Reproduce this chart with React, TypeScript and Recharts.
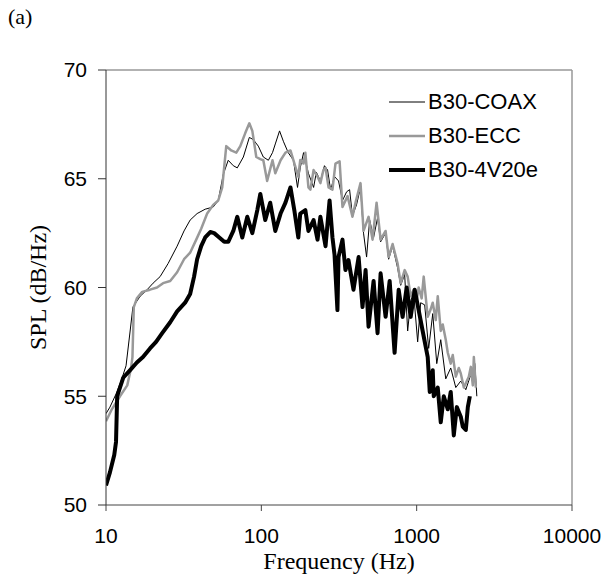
import { LineChart, Line, XAxis, YAxis, ReferenceLine, Label } from 'recharts';

// B30-COAX (thin black)
const coaxFreq = [
  10, 10.6, 11.6, 12.5, 13.46, 14.3, 14.9, 16.6, 18.4, 20.1, 22.3, 25.1, 28.7, 31.8, 34.8, 38.6, 43.5, 49.0,
  52.8, 56.9, 61.2, 66.0, 70.0, 76.6, 83.7, 88.8, 95.6, 103, 111, 118, 123, 131, 139, 149, 161, 171, 178,
  187, 201, 217, 226, 240, 255, 267, 279, 296, 314, 333, 354, 370, 386, 410, 435, 455, 476, 498, 528, 560,
  586, 631, 660, 700, 754, 789, 837, 875, 915, 957, 1015, 1061, 1126, 1195, 1269, 1347, 1429, 1539, 1657,
  1786, 1923, 2072, 2231, 2368, 2440,
];
const coaxSpl = [
  54.2, 54.5, 55.1, 55.7, 56.4, 58.0, 59.1, 59.6, 59.9, 60.2, 60.5, 61.1, 61.9, 62.6, 63.1, 63.4, 63.6, 63.7,
  64.0, 65.2, 65.85, 65.6, 65.5, 66.0, 66.9, 66.8, 66.5, 66.0, 65.85, 66.2, 66.6, 67.2, 66.7, 66.2, 65.85, 64.6, 65.5,
  66.2, 65.25, 64.6, 65.3, 64.9, 65.6, 65.4, 64.5, 65.1, 64.9, 64.0, 64.4, 64.5, 63.3, 63.8, 64.6, 62.5, 61.4, 63.1, 62.3, 63.2,
  62.1, 62.5, 61.3, 61.9, 60.9, 60.1, 60.6, 58.0, 59.4, 59.7, 57.5, 59.3, 59.2, 57.2, 58.8, 56.5, 57.6, 55.8, 56.3,
  55.4, 55.7, 55.3, 56.0, 56.5, 55.0,
];

// B30-ECC (grey)
const eccFreq = [
  10, 10.9, 12.3, 13.7, 14.5, 14.8, 15.1, 15.8, 17.1, 19.2, 21.3, 23.3, 25.9, 28.7, 31.8, 34.8, 38.1, 41.0,
  44.8, 49.0, 52.8, 56.0, 59.45, 64.0, 69.0, 73.2, 78.8, 83.7, 87.5, 92.8, 98.5, 103, 109, 118, 123, 133, 143,
  154, 161, 173, 178, 187, 192, 201, 207, 217, 230, 240, 251, 259, 271, 287, 300, 319, 333, 359, 386, 404, 435,
  455, 490, 520, 552, 586, 631, 660, 700, 754, 789, 837, 875, 915, 957, 1000, 1030, 1077, 1110, 1178, 1231,
  1269, 1327, 1367, 1429, 1472, 1539, 1586, 1657, 1707, 1786, 1867, 1923, 2012, 2072, 2166, 2231, 2299, 2334, 2404,
];
const eccSpl = [
  53.85, 54.4, 55.0, 55.5, 56.3, 56.8, 59.1, 59.5, 59.8, 59.9, 60.0, 60.2, 60.3, 60.7, 61.3, 61.6, 62.2, 62.7,
  63.4, 63.8, 64.0, 64.6, 66.5, 66.3, 66.2, 66.5, 67.1, 67.55, 67.2, 66.0, 65.9, 65.85, 64.9, 65.85, 65.25, 65.85, 66.2,
  66.3, 65.85, 65.1, 65.86, 65.7, 66.2, 64.6, 64.5, 65.4, 65.1, 64.8, 65.4, 65.5, 64.6, 64.5, 65.7, 65.8, 63.7, 64.2, 63.25, 63.9, 64.8,
  62.6, 63.25, 62.2, 63.9, 62.2, 62.6, 61.4, 62.0, 61.1, 60.2, 60.8, 60.5, 59.6, 59.9, 59.4, 60.0, 59.5, 60.5, 58.65, 59.0,
  59.3, 58.5, 59.6, 58.0, 58.3, 57.6, 57.0, 56.5, 56.9, 55.9, 56.3, 56.05, 55.4, 55.6, 55.9, 56.35, 55.5, 56.8, 55.4,
];

// B30-4V20e (thick black)
const v20Freq = [
  10, 10.6, 11.3, 11.6, 11.8, 12.9, 14.3, 15.8, 17.3, 19.2, 21.0, 23.0, 25.9, 28.7, 32.3, 34.8, 36.9, 38.6,
  41.0, 43.5, 46.9, 49.7, 53.6, 57.7, 61.2, 66.0, 70.0, 75.4, 81.2, 87.5, 94.2, 98.5, 106, 114, 123, 133, 143,
  154, 163, 173, 178, 192, 201, 217, 230, 240, 259, 275, 287, 296, 309, 314, 333, 348, 364, 392, 423, 448, 469,
  490, 528, 560, 586, 631, 670, 721, 766, 812, 862, 915, 971, 1030, 1093, 1178, 1214, 1269, 1288, 1367, 1429,
  1495, 1586, 1657, 1734, 1813, 1923, 1981, 2072, 2135, 2200,
];
const v20Spl = [
  50.9, 51.5, 52.3, 52.9, 55.0, 55.85, 56.2, 56.55, 56.8, 57.2, 57.5, 57.9, 58.4, 58.9, 59.3, 59.7, 60.5, 61.3,
  61.9, 62.3, 62.55, 62.5, 62.3, 62.1, 62.1, 62.6, 63.25, 62.3, 63.25, 62.5, 63.56, 64.3, 63.1, 63.9, 62.6, 63.4, 63.9,
  64.6, 63.56, 62.3, 63.4, 63.56, 62.6, 63.1, 62.2, 63.25, 61.9, 64.0, 62.3, 61.5, 58.96, 61.4, 62.2, 60.8, 61.26, 59.9, 61.4, 59.1, 60.8,
  58.2, 60.3, 57.9, 60.65, 58.65, 60.3, 57.0, 59.9, 58.65, 60.0, 58.65, 59.9, 58.96, 58.0, 56.8, 55.2, 56.2, 55.0, 55.4, 53.8,
  55.0, 54.4, 55.2, 53.2, 54.5, 54.06, 53.6, 53.45, 54.5, 55.0,
];

const xTicks = [10, 100, 1000, 10000];
const yTicks = [50, 55, 60, 65, 70];

const toRows = (freq: number[], spl: number[]) => freq.map((f, i) => ({ f, spl: spl[i] }));

const series = [
  { name: 'B30-COAX', data: toRows(coaxFreq, coaxSpl), color: '#000000', width: 1 },
  { name: 'B30-ECC', data: toRows(eccFreq, eccSpl), color: '#999999', width: 2.5 },
  { name: 'B30-4V20e', data: toRows(v20Freq, v20Spl), color: '#000000', width: 4 },
];

const sans = '"Liberation Sans", Arial, sans-serif';
const serif = '"Liberation Serif", "Times New Roman", serif';

function LegendBox() {
  return (
    <div style={{ position: 'absolute', left: 388, top: 85, fontFamily: sans, fontSize: 22, color: '#000' }}>
      {series.map((s) => (
        <div key={s.name} style={{ display: 'flex', alignItems: 'center', height: 34 }}>
          <svg width={38} height={10} style={{ marginRight: 2 }}>
            <line x1={1} y1={5} x2={37} y2={5} stroke={s.color} strokeWidth={s.width} />
          </svg>
          <span>{s.name}</span>
        </div>
      ))}
    </div>
  );
}

export default function App() {
  return (
    <div style={{ position: 'absolute', left: 0, top: 0, width: 605, height: 584, background: '#fff' }}>
      <div style={{ position: 'absolute', left: 8, top: 4, fontFamily: serif, fontSize: 22 }}>(a)</div>
      <LineChart width={605} height={584} margin={{ top: 70, right: 33, bottom: 0, left: 0 }}>
        <XAxis
          dataKey="f"
          type="number"
          scale="log"
          domain={[10, 10000]}
          ticks={xTicks}
          allowDataOverflow
          height={79}
          stroke="#444"
          tickSize={6}
          tickMargin={17}
          tick={{ fill: '#000', fontSize: 21, fontFamily: sans }}
        >
          <Label
            content={({ viewBox }: any) => (
              <text
                x={viewBox.x + viewBox.width / 2}
                y={viewBox.y + 64}
                textAnchor="middle"
                fontFamily={serif}
                fontSize={24}
                fill="#000"
              >
                Frequency (Hz)
              </text>
            )}
          />
        </XAxis>
        <YAxis
          dataKey="spl"
          type="number"
          domain={[50, 70]}
          ticks={yTicks}
          allowDataOverflow
          width={106}
          stroke="#333"
          tickSize={8}
          tickMargin={11}
          tick={{ fill: '#000', fontSize: 21, fontFamily: sans }}
        >
          <Label
            content={({ viewBox }: any) => {
              const cx = viewBox.x + 38;
              const cy = viewBox.y + viewBox.height / 2;
              return (
                <text
                  x={cx}
                  y={cy}
                  transform={`rotate(-90 ${cx} ${cy})`}
                  textAnchor="middle"
                  dominantBaseline="central"
                  fontFamily={serif}
                  fontSize={24}
                  fill="#000"
                >
                  SPL (dB/Hz)
                </text>
              );
            }}
          />
        </YAxis>
        <ReferenceLine y={70} stroke="#999" strokeWidth={1.5} />
        <ReferenceLine x={10000} stroke="#999" strokeWidth={1.5} />
        {series.map((s) => (
          <Line
            key={s.name}
            data={s.data}
            dataKey="spl"
            name={s.name}
            type="linear"
            stroke={s.color}
            strokeWidth={s.width}
            strokeLinejoin="round"
            dot={false}
            activeDot={false}
            isAnimationActive={false}
          />
        ))}
      </LineChart>
      <LegendBox />
    </div>
  );
}
